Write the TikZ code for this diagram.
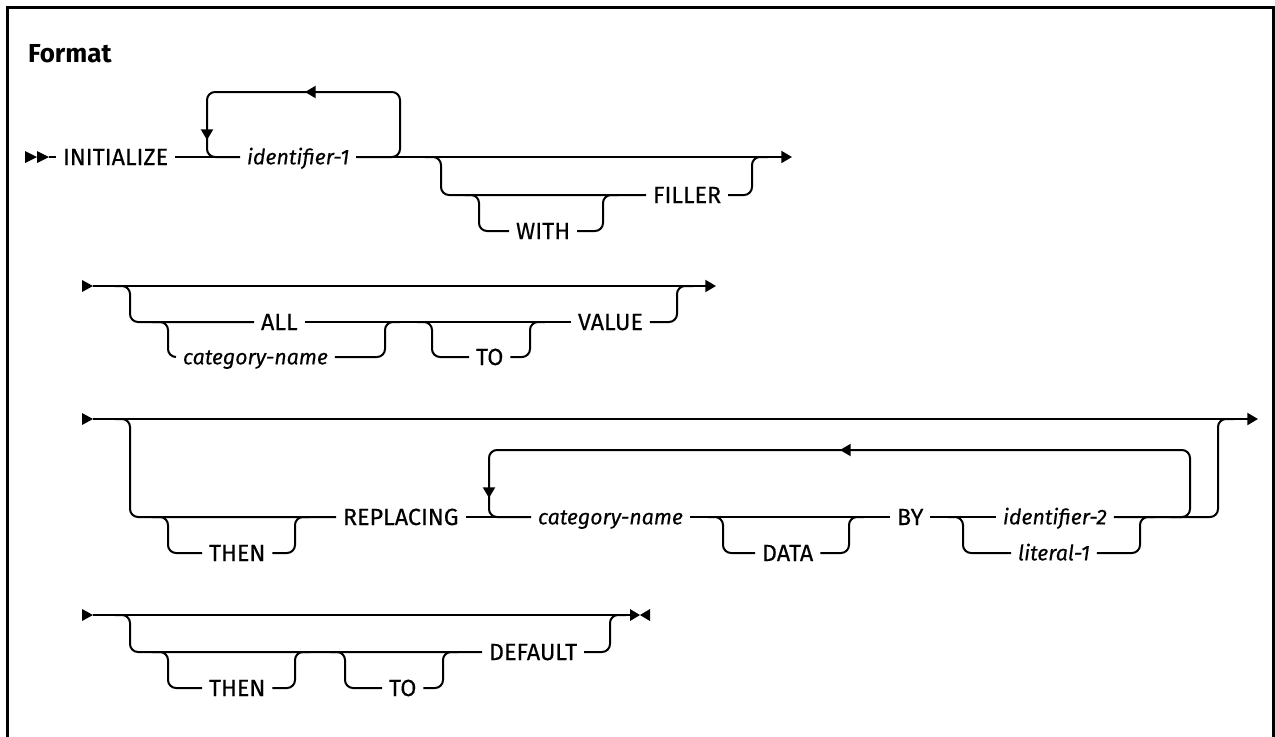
\documentclass[tikz,border=0pt]{standalone}
\usepackage{fontspec}
\setmainfont{Fira Sans}
\newfontfamily\kwfont{Fira Sans}[FakeBold=0.3]
\usetikzlibrary{arrows.meta}
\begin{document}
\begin{tikzpicture}[x=0.75pt,y=-0.75pt,
  line width=1.5pt,
  rr/.style={line width=1.5pt, rounded corners=6pt},
  kw/.style={anchor=west, inner xsep=4.5pt, inner ysep=0pt, text height=12pt, text depth=0pt, font=\kwfont\fontsize{17.5}{19}\selectfont},
  var/.style={anchor=west, inner xsep=4.5pt, inner ysep=0pt, text height=11pt, text depth=0pt, font=\kwfont\fontsize{16}{18}\selectfont\itshape},
  tip/.style={-{Triangle[length=8pt,width=9pt]}, line width=1.5pt},
  head/.style={fill=black},
]
\useasboundingbox (0,0) rectangle (1275,736);
% frame
\draw[line width=2.25pt] (7,737) -- (7,7) -- (1273,7) -- (1273,737);
\node[anchor=base west, inner sep=0pt, font=\fontsize{19.5}{21}\selectfont\bfseries] (fmt) at (27,62) {Format};

% ---------- row 1 ----------
\coordinate (s1) at (49,157);
\coordinate (e1) at (792,157);
\fill[head] (25,151) -- (37,157) -- (25,163) -- cycle;
\fill[head] (37,151) -- (49,157) -- (37,163) -- cycle;
\node[kw] (init) at (56,157) {INITIALIZE};
\node[var] (id1) at (240,157) {identifier-1};
\node[kw] (filler) at (646,195) {FILLER};
\node[kw] (with) at (509,231) {WITH};
\draw (s1) -- (init.west);
\draw (init.east) -- (id1.west);
\draw[tip] (id1.east) -- (e1);
\draw[rr] (id1.west) -- (207,157) -- (207,92) -- (400,92) -- (400,157) -- (id1.east);
\draw[tip] (325,92) -- (305,92);
\draw[tip] (207,118) -- (207,140);
\draw[rr] (425,157) -- (441,157) -- (441,195) -- (filler.west);
\draw[rr] (filler.east) -- (752,195) -- (752,157) -- (768,157);
\draw[rr] (465,195) -- (479,195) -- (479,231) -- (with.west);
\draw[rr] (with.east) -- (603,231) -- (603,195) -- (618,195);

% ---------- row 2 ----------
\coordinate (s2) at (93,286);
\coordinate (e2) at (716,286);
\fill[head] (82,280) -- (93,286) -- (82,292) -- cycle;
\node[kw] (all) at (254,322) {ALL};
\node[var] (cat1) at (176,357) {category-name};
\node[kw] (to1) at (469,357) {TO};
\node[kw] (value) at (571,322) {VALUE};
\draw[tip] (s2) -- (e2);
\draw[rr] (115,286) -- (130,286) -- (130,322) -- (all.west);
\draw[rr] (152,322) -- (168,322) -- (168,357) -- (cat1.west);
\draw[rr] (cat1.east) -- (385,357) -- (385,322) -- (400,322);
\draw (all.east) -- (value.west);
\draw[rr] (417,322) -- (432,322) -- (432,357) -- (to1.west);
\draw[rr] (to1.east) -- (530,357) -- (530,322) -- (545,322);
\draw[rr] (value.east) -- (677,322) -- (677,286) -- (693,286);

% ---------- row 3 ----------
\coordinate (s3) at (93,419);
\coordinate (e3) at (1258,419);
\fill[head] (82,413) -- (93,419) -- (82,425) -- cycle;
\node[kw] (then1) at (202,553) {THEN};
\node[kw] (repl) at (336,517) {REPLACING};
\node[var] (cat2) at (531,517) {category-name};
\node[kw] (data) at (755,553) {DATA};
\node[kw] (by) at (890,517) {BY};
\node[var] (id2) at (996,517) {identifier-2};
\node[var] (lit1) at (1011,553) {literal-1};
\draw[tip] (s3) -- (e3);
\draw[rr] (115,419) -- (130,419) -- (130,517) -- (repl.west);
\draw[rr] (152,517) -- (168,517) -- (168,553) -- (then1.west);
\draw[rr] (then1.east) -- (295,553) -- (295,517) -- (310,517);
\draw (repl.east) -- (cat2.west);
\draw[rr] (cat2.west) -- (489,517) -- (489,450) -- (1190,450) -- (1190,517) -- (1170,517);
\draw[tip] (860,450) -- (840,450);
\draw[tip] (489,476) -- (489,498);
\draw (cat2.east) -- (by.west);
\draw[rr] (708,517) -- (723,517) -- (723,553) -- (data.west);
\draw[rr] (data.east) -- (849,553) -- (849,517) -- (864,517);
\draw (by.east) -- (id2.west);
\draw[rr] (948,517) -- (963,517) -- (963,553) -- (lit1.west);
\draw[rr] (lit1.east) -- (1140,553) -- (1140,517) -- (1155,517);
\draw[rr] (id2.east) -- (1218,517) -- (1218,419) -- (1234,419);

% ---------- row 4 ----------
\coordinate (s4) at (93,615);
\coordinate (e4) at (630,615);
\fill[head] (82,609) -- (93,615) -- (82,621) -- cycle;
\node[kw] (then2) at (202,688) {THEN};
\node[kw] (to2) at (382,688) {TO};
\node[kw] (default) at (482,652) {DEFAULT};
\draw (s4) -- (e4);
\fill[head] (630,609) -- (640,615) -- (630,621) -- cycle;
\fill[head] (650,609) -- (640,615) -- (650,621) -- cycle;
\draw[rr] (115,615) -- (130,615) -- (130,652) -- (default.west);
\draw[rr] (152,652) -- (168,652) -- (168,688) -- (then2.west);
\draw[rr] (then2.east) -- (295,688) -- (295,652) -- (310,652);
\draw[rr] (330,652) -- (345,652) -- (345,688) -- (to2.west);
\draw[rr] (to2.east) -- (443,688) -- (443,652) -- (458,652);
\draw[rr] (default.east) -- (610,652) -- (610,615) -- (626,615);
\end{tikzpicture}
\end{document}
